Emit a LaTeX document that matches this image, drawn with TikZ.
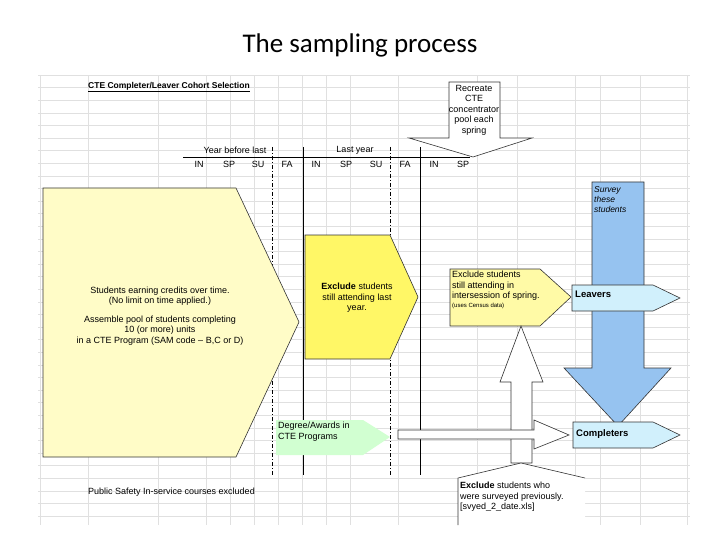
\documentclass[tikz,border=0pt]{standalone}
\usepackage{fontspec}
\setmainfont{Liberation Sans}
\newfontfamily\titlefont{Carlito}
\definecolor{survblue}{RGB}{150,195,240}
\begin{document}
\begin{tikzpicture}[x=1pt,y=-1pt,
  lbl/.style={font=\fontsize{9}{10.5}\selectfont,inner sep=0pt},
  shp/.style={draw=black!80,line width=0.6pt},
  grid/.style={draw=black!12,line width=0.5pt},
  vline/.style={line width=0.7pt}]
\useasboundingbox (0,0) rectangle (720,540);
\node[font=\titlefont\fontsize{27}{30}\selectfont] (title) at (360,45) {The sampling process};
% grid
\foreach \x in {40,88,158,206,230,254,278,302,326,350,398,477,517,575,600,640,687}
  \draw[grid] (\x,75) -- (\x,525);
\foreach \i in {0,...,35}
  \draw[grid] (38,{75+\i*12.6}) -- (690,{75+\i*12.6});
\node[lbl,font=\bfseries\fontsize{8.5}{9.5}\selectfont,anchor=west] (hdr) at (88,87) {\underline{CTE Completer/Leaver Cohort Selection}};
% timeline
\draw[vline] (183,157) -- (470,157);
\node[lbl] (ybl) at (235,150) {Year before last};
\node[lbl] (ly) at (355,150) {Last year};
\foreach \t/\x in {IN/199,SP/229,SU/258,FA/287,IN/316,SP/346,SU/376,FA/405,IN/434,SP/463}
  \node[lbl] at (\x,164) {\t};
\draw[vline,dash pattern=on 4pt off 2pt on 1pt off 2pt] (272,147) -- (272,475);
\draw[vline] (303,147) -- (303,475);
\draw[vline,dash pattern=on 4pt off 2pt on 1pt off 2pt] (390,147) -- (390,475);
\draw[vline] (420,147) -- (420,475);
% recreate arrow
\draw[shp,fill=white] (449,82) -- (500,82) -- (500,138) -- (532,138) -- (473,157) -- (409,138) -- (449,138) -- cycle;
\node[lbl,align=center] (rec) at (474,110) {Recreate\\CTE\\concentrator\\pool each\\spring};
% big pool
\draw[shp,fill=yellow!22] (43,188) -- (236,188) -- (299,322) -- (236,457) -- (43,457) -- cycle;
\node[lbl,align=center] (pool) at (160,316) {Students earning credits over time.\\(No limit on time applied.)\\[8pt]Assemble pool of students completing\\10 (or more) units\\in a CTE Program (SAM code -- B,C or D)};
% exclude last year
\draw[shp,fill=yellow!60] (305,235) -- (390,235) -- (418,297) -- (390,359) -- (305,359) -- cycle;
\node[lbl,align=center] (ex1) at (357,298) {\textbf{Exclude} students\\still attending last\\year.};
% exclude intersession
\draw[shp,fill=yellow!35] (450,269) -- (540,269) -- (571,297) -- (540,326) -- (450,326) -- cycle;
\node[lbl,align=left,anchor=north west] (ex2) at (452,271) {Exclude students\\still attending in\\intersession of spring.\\[-2pt]{\fontsize{6}{7}\selectfont (uses Census data)}};
% blue arrow
\draw[shp,fill=survblue] (592,182) -- (644,182) -- (644,368) -- (671,368) -- (618,426) -- (564,368) -- (592,368) -- cycle;
\node[lbl,align=left,anchor=north west,font=\itshape\fontsize{8.5}{10}\selectfont] (surv) at (594,186) {Survey\\these\\students};
% leavers / completers
\draw[shp,fill=cyan!18] (572,285) -- (653,285) -- (680,298) -- (653,311) -- (572,311) -- cycle;
\node[lbl,anchor=west,font=\bfseries\fontsize{9.5}{10}\selectfont] (leav) at (575,294) {Leavers};
\draw[shp,fill=cyan!18] (573,422) -- (653,422) -- (680,435) -- (653,448) -- (573,448) -- cycle;
\node[lbl,anchor=west,font=\bfseries\fontsize{9.5}{10}\selectfont] (comp) at (576,434) {Completers};
% degree
\draw[shp,draw=none,fill=green!18] (276,420) -- (363,420) -- (390,437) -- (363,455) -- (276,455) -- cycle;
\node[lbl,align=left,anchor=north west] (deg) at (278,422) {Degree/Awards in\\CTE Programs};
% white vertical arrow
\draw[shp,fill=white] (511,463) -- (511,382) -- (500,382) -- (521,326) -- (543,382) -- (532,382) -- (532,463) -- cycle;
% white horizontal arrow
\draw[shp,fill=white] (398,430) -- (534,430) -- (534,420) -- (569,435) -- (534,449) -- (534,439) -- (398,439) -- cycle;
% bottom box
\fill[white] (458,478) -- (521,463) -- (585,478) -- (585,525) -- (458,525) -- cycle;
\draw[shp] (458,525) -- (458,478) -- (521,463) -- (585,478);
\node[lbl,align=left,anchor=north west] (ex3) at (460,482) {\textbf{Exclude} students who\\were surveyed previously.\\{[}svyed\_2\_date.xls{]}};
\node[lbl,anchor=west] (pub) at (88,492) {Public Safety In-service courses excluded};
\end{tikzpicture}
\end{document}
